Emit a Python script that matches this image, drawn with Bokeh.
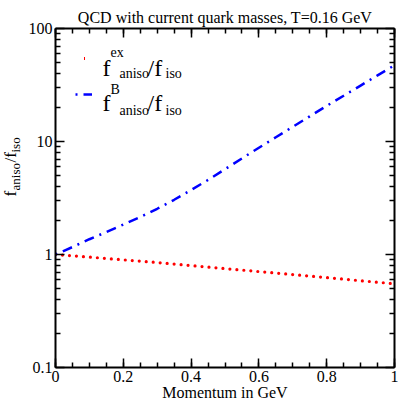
import math
from bokeh.plotting import figure
from bokeh.layouts import row
from bokeh.models import (Range1d, LinearAxis, LogAxis, FixedTicker, CustomJSTickFormatter,
                          Label, Legend, LegendItem, ColumnDataSource)
from bokeh.embed import file_html
from bokeh.resources import INLINE

# ---------------- data ----------------
title_text = "QCD with current quark masses, T=0.16 GeV"
x_label_text = "Momentum in GeV"

momentum = [0.0, 0.05, 0.1, 0.15, 0.2, 0.25, 0.3, 0.35, 0.4, 0.45, 0.5,
            0.55, 0.6, 0.65, 0.7, 0.75, 0.8, 0.85, 0.9, 0.95, 1.0]
ratio_ex = [1.0, 0.974, 0.948, 0.922, 0.897, 0.873, 0.849, 0.823, 0.798, 0.774, 0.75,
            0.728, 0.706, 0.685, 0.664, 0.644, 0.624, 0.605, 0.586, 0.568, 0.551]
ratio_B = [1.0, 1.164, 1.365, 1.58, 1.84, 2.15, 2.54, 3.05, 3.72, 4.57, 5.69,
           7.08, 8.81, 10.9, 13.49, 16.7, 20.65, 25.4, 31.26, 38.5, 47.3]

x_ticks = [0.0, 0.2, 0.4, 0.6, 0.8, 1.0]
x_tick_labels = ["0", "0.2", "0.4", "0.6", "0.8", "1"]
y_ticks = [0.1, 1.0, 10.0, 100.0]
y_tick_labels = ["0.1", "1", "10", "100"]

x_minor = [i * 0.05 for i in range(21)]
y_minor = [m * 10.0 ** e for e in (-1, 0, 1) for m in range(2, 10)]

FONT = "Liberation Serif"

p = figure(width=373, height=403, x_range=Range1d(0, 1), y_range=Range1d(0.1, 100),
           y_axis_type="log", output_backend="svg", toolbar_location=None,
           min_border_left=28, min_border_right=4, min_border_top=28, min_border_bottom=35)
p.xgrid.visible = False
p.ygrid.visible = False
p.outline_line_color = None

p.title.text = title_text
p.title.align = "center"
p.title.text_font = FONT
p.title.text_font_size = "16px"
p.title.text_font_style = "normal"
p.title.text_color = "black"
p.title.standoff = 6

src = ColumnDataSource(data=dict(x=momentum, ex=ratio_ex, b=ratio_B))
red_r = p.line(x="x", y="ex", source=src, line_color="red", line_width=3.2,
               line_dash="0 7", line_cap="round")
blue_r = p.line(x="x", y="b", source=src, line_color="blue", line_width=2.5,
                line_dash="10 6 2 6", line_dash_offset=16, line_cap="butt")

blank = CustomJSTickFormatter(code="return ''")


def style_axis(ax, ticks, minor, labels, show):
    ax.ticker = FixedTicker(ticks=ticks, minor_ticks=minor)
    ax.axis_line_width = 2
    ax.axis_line_color = "black"
    ax.major_tick_in = 9
    ax.major_tick_out = 0
    ax.minor_tick_in = 5
    ax.minor_tick_out = 0
    ax.major_tick_line_width = 1.5
    ax.minor_tick_line_width = 1.5
    ax.major_tick_line_color = "black"
    ax.minor_tick_line_color = "black"
    ax.major_label_text_font = FONT
    ax.major_label_text_color = "black"
    if show:
        ax.major_label_overrides = {t: s for t, s in zip(ticks, labels)}
        ax.major_label_text_font_size = "16px"
    else:
        ax.formatter = blank
        ax.major_label_text_font_size = "1px"
        ax.major_label_standoff = 0


xa = p.xaxis[0]
style_axis(xa, x_ticks, x_minor, x_tick_labels, True)
xa.major_label_standoff = 3
xa.axis_label = x_label_text
xa.axis_label_text_font = FONT
xa.axis_label_text_font_size = "16px"
xa.axis_label_text_font_style = "normal"
xa.axis_label_text_color = "black"
xa.axis_label_standoff = -1

ya = p.yaxis[0]
style_axis(ya, y_ticks, y_minor, y_tick_labels, True)
ya.major_label_standoff = 3

top_ax = LinearAxis()
style_axis(top_ax, x_ticks, x_minor, x_tick_labels, False)
p.add_layout(top_ax, "above")
right_ax = LogAxis()
style_axis(right_ax, y_ticks, y_minor, y_tick_labels, False)
p.add_layout(right_ax, "right")


def txt(fig, s, x, y, size, angle=0.0, baseline="alphabetic"):
    fig.add_layout(Label(x=x, y=y, x_units="screen", y_units="screen", text=s,
                         text_font=FONT, text_font_size=f"{size}px", text_color="black",
                         text_baseline=baseline, text_align="left", angle=angle,
                         angle_units="rad"))


# legend texts (frame-relative)
txt(p, "f", 47, 300, 24)
txt(p, "ex", 55, 315, 14)
txt(p, "aniso", 64, 294, 14)
txt(p, "/f", 92, 300, 24)
txt(p, "iso", 110, 294, 14)

txt(p, "f", 47, 265, 24)
txt(p, "B", 55, 278, 14)
txt(p, "aniso", 64, 257, 14)
txt(p, "/f", 92, 265, 24)
txt(p, "iso", 110, 257, 14)

common = dict(padding=0, margin=0, spacing=0, border_line_color=None,
              background_fill_alpha=0, label_text_font_size="1px",
              label_standoff=0, label_width=0, label_height=10, glyph_height=10)
leg_ex = Legend(items=[LegendItem(label="", renderers=[red_r])], location=(29, 304),
                glyph_width=1, **common)
leg_b = Legend(items=[LegendItem(label="", renderers=[blue_r])], location=(20, 268),
               glyph_width=17, **common)
p.add_layout(leg_ex)
p.add_layout(leg_b)

# y-axis label strip (rotated f_aniso/f_iso)
ylab = figure(width=25, height=403, x_range=Range1d(0, 1), y_range=Range1d(0, 1),
              output_backend="svg", toolbar_location=None, min_border=0,
              x_axis_type=None, y_axis_type=None)
ylab.outline_line_color = None
rot = math.pi / 2
txt(ylab, "f", 9.5, 171, 17, angle=rot, baseline="middle")
txt(ylab, "aniso", 14.8, 177, 13, angle=rot, baseline="middle")
txt(ylab, "/f", 9.5, 205, 17, angle=rot, baseline="middle")
txt(ylab, "iso", 14.8, 215, 13, angle=rot, baseline="middle")

layout = row(ylab, p)
open("out.html", "w").write(file_html(layout, INLINE))
